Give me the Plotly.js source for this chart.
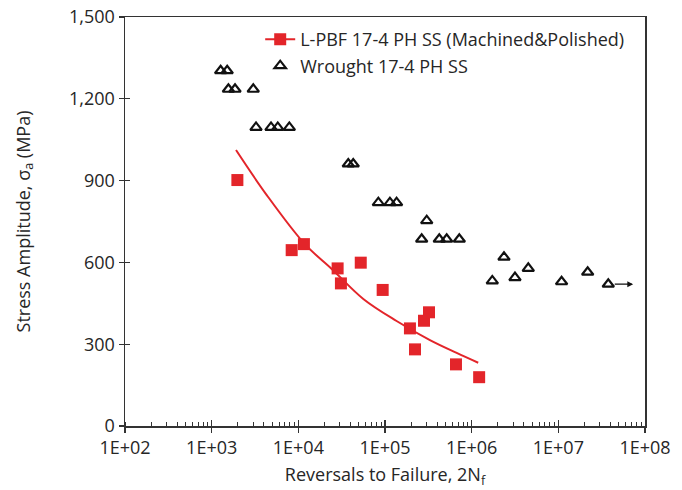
<!DOCTYPE html>
<html>
<head>
<meta charset="utf-8">
<script src="https://cdn.plot.ly/plotly-3.0.1.min.js"></script>
<style>html,body{margin:0;padding:0;background:#fff;}#chart{width:682px;height:490px;}</style>
</head>
<body>
<div id="chart"></div>
<script>
// L-PBF 17-4 PH SS (Machined & Polished) test data
const lpbfN = [1980, 8380, 11600, 28400, 31000, 52500, 94000, 194000, 222000, 282000, 322000, 659000, 1220000];
const lpbfS = [902, 645, 667, 578, 523, 599, 499, 358, 281, 386, 417, 226, 179];

// Fitted curve for L-PBF
const fitN = [1910, 4320, 11900, 24300, 56200, 136000, 330000, 671000, 1190000];
const fitS = [1012, 847, 667, 576, 466, 385, 315, 268, 232];

// Wrought 17-4 PH SS data
const wroughtN = [1270, 1510, 1560, 1860, 3020, 3250, 4840, 5790, 7870, 37700, 43000,
  83800, 114000, 136000, 303000, 265000, 423000, 515000, 720000,
  2360000, 1730000, 3160000, 4500000, 10900000, 21800000, 37700000];
const wroughtS = [1303, 1303, 1235, 1235, 1235, 1095, 1095, 1095, 1095, 961, 961,
  819, 819, 819, 753, 685, 685, 685, 685,
  619, 532, 544, 578, 529, 564, 520];

// Run-out arrow (tail and head in cycles, stress)
const runoutTailN = [43000000];
const runoutHeadN = [73000000];
const runoutS = [520];

const seriesNames = ['L-PBF 17-4 PH SS (Machined&Polished)', 'Wrought 17-4 PH SS'];
const xTickVals = [1e2, 1e3, 1e4, 1e5, 1e6, 1e7, 1e8];
const xTickText = ['1E+02', '1E+03', '1E+04', '1E+05', '1E+06', '1E+07', '1E+08'];

const RED = '#e3252a';
const AXC = '#333333';
const FONT = 'Open Sans, sans-serif';
const FS = 18;

// interleave nulls so squares are not connected, while legend shows line+marker
const sqX = [], sqY = [];
lpbfN.forEach((v, i) => { sqX.push(v, null); sqY.push(lpbfS[i], null); });

const traces = [
  {x: fitN, y: fitS, mode: 'lines', line: {color: RED, width: 2, shape: 'spline', smoothing: 1}, showlegend: false, hoverinfo: 'skip'},
  {x: sqX, y: sqY, mode: 'lines+markers', name: seriesNames[0], connectgaps: false,
   line: {color: RED, width: 2}, marker: {symbol: 'square', size: 12, color: RED}},
  {x: wroughtN, y: wroughtS, mode: 'markers', name: seriesNames[1],
   marker: {symbol: 'triangle-up-open', size: 10, color: '#111', line: {width: 2.2, color: '#111'}}},
  {x: [null], y: [null], xaxis: 'x2', yaxis: 'y2', showlegend: false, hoverinfo: 'skip'}
];

const annotations = runoutTailN.map((t, i) => ({
  x: Math.log10(runoutHeadN[i]), y: runoutS[i], ax: Math.log10(t), ay: runoutS[i],
  xref: 'x', yref: 'y', axref: 'x', ayref: 'y', text: '', showarrow: true,
  arrowhead: 2, arrowsize: 0.9, arrowwidth: 1.3, arrowcolor: '#111'
}));

const layout = {
  width: 682, height: 490,
  margin: {l: 125, r: 37, t: 17, b: 64},
  paper_bgcolor: '#fff', plot_bgcolor: '#fff',
  font: {family: FONT, size: FS, color: '#262626'},
  showlegend: true,
  legend: {x: 0.26, y: 0.99, xanchor: 'left', yanchor: 'top', bgcolor: 'rgba(0,0,0,0)',
           font: {family: FONT, size: FS, color: '#262626'}, tracegroupgap: 0},
  xaxis: {
    type: 'log', range: [2, 8], tickvals: xTickVals, ticktext: xTickText,
    ticks: 'outside', ticklen: 5, tickwidth: 1.2, tickcolor: AXC,
    minor: {ticks: 'inside', ticklen: 4, tickwidth: 1, tickcolor: AXC, dtick: 'D1', showgrid: false},
    showline: true, linecolor: AXC, linewidth: 1.5, mirror: true, showgrid: false, zeroline: false,
    tickfont: {family: FONT, size: FS, color: '#262626'},
    title: {text: 'Reversals to Failure, 2N<sub>f</sub>', font: {family: FONT, size: FS, color: '#262626'}, standoff: 10}
  },
  yaxis: {
    range: [0, 1500], dtick: 300, tick0: 0, tickformat: ',d',
    ticks: 'outside', ticklen: 5, tickwidth: 1.2, tickcolor: AXC,
    showline: true, linecolor: AXC, linewidth: 1.5, mirror: true, showgrid: false, zeroline: false,
    tickfont: {family: FONT, size: FS, color: '#262626'},
    title: {text: 'Stress Amplitude, σ<sub>a</sub> (MPa)', font: {family: FONT, size: FS, color: '#262626'}, standoff: 34}
  },
  xaxis2: {type: 'log', range: [2, 8], overlaying: 'x', anchor: 'y', side: 'bottom', tickvals: xTickVals,
    ticks: 'inside', ticklen: 6, tickwidth: 1.2, tickcolor: AXC, showticklabels: false, showgrid: false, zeroline: false, showline: false},
  yaxis2: {range: [0, 1500], dtick: 300, overlaying: 'y', anchor: 'x', side: 'left',
    ticks: 'inside', ticklen: 5, tickwidth: 1.2, tickcolor: AXC, showticklabels: false, showgrid: false, zeroline: false, showline: false},
  annotations: annotations
};

Plotly.newPlot('chart', traces, layout, {displayModeBar: false, staticPlot: true});
</script>
</body>
</html>
